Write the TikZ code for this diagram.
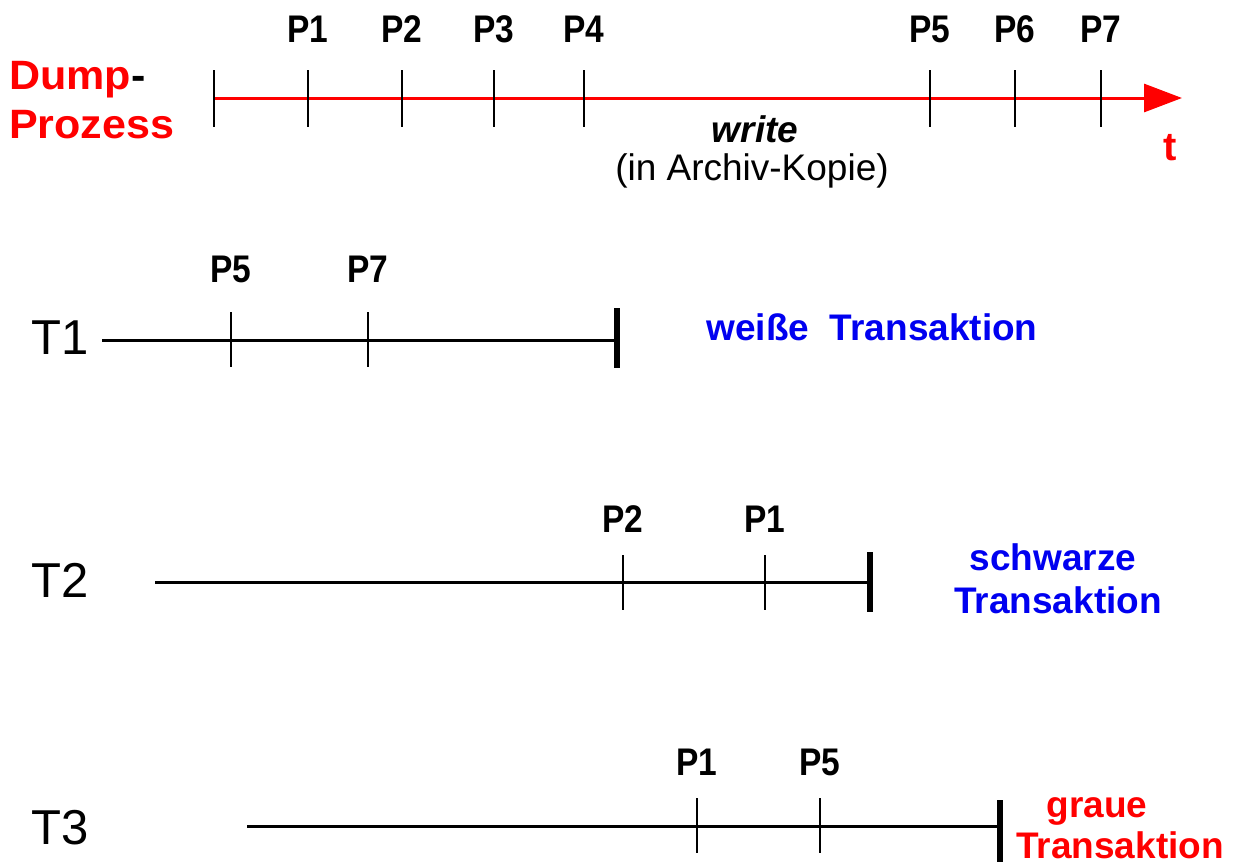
\documentclass[tikz,border=0pt]{standalone}
\usepackage{fontspec}
\setmainfont{Liberation Sans}
\newfontfamily\condfont[FakeStretch=0.87]{Liberation Sans}
\newfontfamily\widefont[FakeStretch=1.05]{Liberation Sans}
\usetikzlibrary{arrows.meta}
\begin{document}
\begin{tikzpicture}[x=1pt,y=-1pt,
  plab/.style={font=\condfont\fontsize{38.5}{38.5}\selectfont\bfseries, inner sep=0pt, anchor=base},
  tlab/.style={font=\fontsize{49}{49}\selectfont, inner sep=0pt, anchor=base west},
  dumplab/.style={font=\widefont\fontsize{41}{41}\selectfont\bfseries, text=red, inner sep=0pt, anchor=base west},
  bluelab/.style={font=\fontsize{37}{37}\selectfont\bfseries, text={rgb,255:red,0;green,0;blue,240}, inner sep=0pt, anchor=base},
  redlab/.style={font=\fontsize{37}{37}\selectfont\bfseries, text=red, inner sep=0pt, anchor=base},
  tickline/.style={line width=2.2pt},
  endbar/.style={line width=6pt},
  tline/.style={line width=3pt}]
\useasboundingbox[fill=white] (0,0) rectangle (1233,867);

% Dump process
\node[dumplab] (dump) at (9,89) {Dump\textcolor{black}{-}};
\node[dumplab] (proz) at (9,138) {Prozess};
\coordinate (d0) at (214,98);
\coordinate (dend) at (1182,98);
\draw[red, line width=3pt, -{Triangle[length=38pt,width=28pt]}] (d0) -- (dend);
\foreach \x/\n/\l in {214/d0t/, 308/d1/P1, 402/d2/P2, 494/d3/P3, 584/d4/P4, 930/d5/P5, 1015/d6/P6, 1101/d7/P7} {
  \coordinate (\n a) at (\x,70);
  \coordinate (\n b) at (\x,127);
  \draw[tickline] (\n a) -- (\n b);
  \node[plab] (\n lab) at (\x,42) {\l};
}
\node[font=\fontsize{37}{37}\selectfont\bfseries\itshape, inner sep=0pt, anchor=base] (write) at (755,142) {write};
\node[font=\fontsize{37}{37}\selectfont, inner sep=0pt, anchor=base] (archiv) at (752,180) {(in Archiv-Kopie)};
\node[font=\fontsize{40}{40}\selectfont\bfseries, text=red, inner sep=0pt, anchor=base] (t) at (1170,160) {t};

% T1
\node[tlab] (T1) at (31,354) {T1};
\coordinate (t1s) at (102,340);
\coordinate (t1e) at (617,340);
\draw[tline] (t1s) -- (t1e);
\coordinate (t1ba) at (617,308);
\coordinate (t1bb) at (617,368);
\draw[endbar] (t1ba) -- (t1bb);
\foreach \x/\n/\l in {231/a1/P5, 368/a2/P7} {
  \coordinate (\n a) at (\x,312);
  \coordinate (\n b) at (\x,367);
  \draw[tickline] (\n a) -- (\n b);
  \node[plab] (\n lab) at (\x,282) {\l};
}
\node[bluelab] (weiss) at (872,340) {weiße\ \ Transaktion};

% T2
\node[tlab] (T2) at (31,597) {T2};
\coordinate (t2s) at (155,582);
\coordinate (t2e) at (870,582);
\draw[tline] (t2s) -- (t2e);
\coordinate (t2ba) at (870,552);
\coordinate (t2bb) at (870,612);
\draw[endbar] (t2ba) -- (t2bb);
\foreach \x/\n/\l in {623/b1/P2, 765/b2/P1} {
  \coordinate (\n a) at (\x,555);
  \coordinate (\n b) at (\x,610);
  \draw[tickline] (\n a) -- (\n b);
  \node[plab] (\n lab) at (\x,532) {\l};
}
\node[bluelab] (schw) at (1053,570) {schwarze};
\node[bluelab] (schwT) at (1058,613) {Transaktion};

% T3
\node[tlab] (T3) at (31,844) {T3};
\coordinate (t3s) at (247,826);
\coordinate (t3e) at (1000,826);
\draw[tline] (t3s) -- (t3e);
\coordinate (t3ba) at (1000,800);
\coordinate (t3bb) at (1000,862);
\draw[endbar] (t3ba) -- (t3bb);
\foreach \x/\n/\l in {697/c1/P1, 820/c2/P5} {
  \coordinate (\n a) at (\x,798);
  \coordinate (\n b) at (\x,853);
  \draw[tickline] (\n a) -- (\n b);
  \node[plab] (\n lab) at (\x,775) {\l};
}
\node[redlab] (grau) at (1097,817) {graue};
\node[redlab] (grauT) at (1120,858) {Transaktion};
\end{tikzpicture}
\end{document}
